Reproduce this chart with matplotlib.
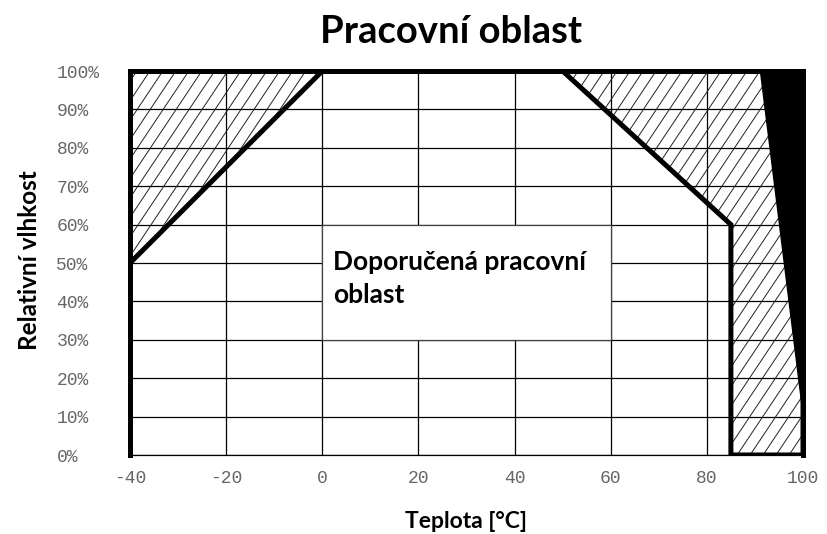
import numpy as np
import matplotlib.pyplot as plt
from matplotlib.patches import Polygon, Rectangle

plt.rcParams['font.family'] = ['Lato', 'DejaVu Sans']
plt.rcParams['axes.unicode_minus'] = False

# axis ticks
temp_ticks = [-40, -20, 0, 20, 40, 60, 80, 100]
hum_ticks = [0, 10, 20, 30, 40, 50, 60, 70, 80, 90, 100]
hum_labels = ['0%', '10%', '20%', '30%', '40%', '50%', '60%', '70%', '80%', '90%', '100%']

# zones (temperature, humidity)
cold_zone_t = [-40, -40, 0]
cold_zone_h = [50, 100, 100]
hot_zone_t = [50, 100, 100, 85, 85]
hot_zone_h = [100, 100, 0, 0, 60]
forbidden_t = [91, 100, 100]
forbidden_h = [100, 100, 10]

# recommended area label box
box_t = [0, 60]
box_h = [30, 60]

fig = plt.figure(figsize=(8.27, 5.34), dpi=100)
ax = fig.add_axes([130 / 827, 1 - 455 / 534, 673 / 827, 384 / 534])
ax.set_xlim(-40, 100)
ax.set_ylim(0, 100)

ax.set_axisbelow(True)
ax.grid(True, color='black', lw=0.9)
ax.set_xticks(temp_ticks)
ax.set_yticks(hum_ticks)
ax.set_yticklabels(hum_labels, ha='left')
ax.tick_params(length=0, labelcolor='#666666', labelsize=13, labelfontfamily='Liberation Mono')
ax.tick_params(axis='y', pad=53)
ax.tick_params(axis='x', pad=11)

for side in ['left', 'top', 'right']:
    ax.spines[side].set_linewidth(3.6)
ax.spines['bottom'].set_linewidth(0.9)

# white box behind the label
ax.add_patch(Rectangle((box_t[0], box_h[0]), box_t[1] - box_t[0], box_h[1] - box_h[0],
                       facecolor='white', edgecolor='#444444', lw=0.9, zorder=2))

# hatched zones with steep thin hatching
slope = 1.875   # % per degree
for zt, zh in [(cold_zone_t, cold_zone_h), (hot_zone_t, hot_zone_h)]:
    poly = Polygon(np.column_stack([zt, zh]), closed=True, facecolor='none',
                   edgecolor='black', lw=3.6, joinstyle='miter', zorder=5)
    ax.add_patch(poly)
    for x0 in np.arange(-100, 105, 2.7):
        ln, = ax.plot([x0, x0 + 100 / slope], [0, 100], color='#222222', lw=0.7, zorder=3)
        ln.set_clip_path(poly)

ax.add_patch(Polygon(np.column_stack([forbidden_t, forbidden_h]), closed=True,
                     facecolor='black', edgecolor='black', lw=1, zorder=4))

ax.text(2.3, 46, 'Doporučená pracovní\noblast', fontsize=19, fontweight='bold',
        va='center', ha='left', linespacing=1.45, zorder=6)

fig.text(0.545, 0.94, 'Pracovní oblast', fontsize=27.5, fontweight='bold', ha='center', va='center')
fig.text(0.563, 0.024, 'Teplota [°C]', fontsize=16.5, fontweight='bold', ha='center', va='center')
fig.text(0.036, 0.513, 'Relativní vlhkost', fontsize=17.5, fontweight='bold', ha='center',
         va='center', rotation=90)

fig.savefig('out.png', dpi=100)
